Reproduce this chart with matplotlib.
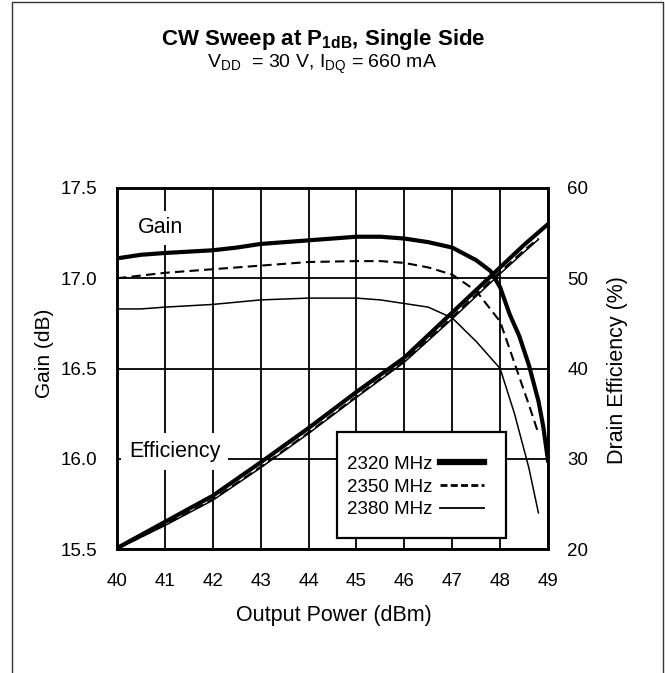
import matplotlib.pyplot as plt
from matplotlib.lines import Line2D
from matplotlib.patches import Rectangle

plt.rcParams['font.family'] = ['Liberation Sans', 'DejaVu Sans']
plt.rcParams['mathtext.fontset'] = 'custom'
plt.rcParams['mathtext.rm'] = 'Liberation Sans'
plt.rcParams['mathtext.bf'] = 'Liberation Sans:bold'

# gain curves (dB) vs output power (dBm)
pout_g2320 = [40, 40.5, 41, 42, 42.5, 43, 44, 45, 45.5, 46, 46.5, 47, 47.5, 47.8, 48, 48.2, 48.4, 48.6, 48.8, 48.9, 49]
gain_2320 = [17.11, 17.13, 17.14, 17.155, 17.17, 17.19, 17.21, 17.23, 17.23, 17.22, 17.20, 17.17, 17.10, 17.04,
             16.95, 16.80, 16.68, 16.52, 16.32, 16.18, 15.99]
pout_g2350 = [40, 41, 42, 43, 44, 45, 45.5, 46, 46.5, 47, 47.5, 48, 48.3, 48.6, 48.8]
gain_2350 = [17.00, 17.03, 17.05, 17.07, 17.09, 17.095, 17.095, 17.085, 17.06, 17.02, 16.93, 16.76, 16.53, 16.30, 16.14]
pout_g2380 = [40, 40.5, 41, 42, 43, 44, 45, 45.5, 46, 46.5, 47, 47.5, 48, 48.3, 48.6, 48.8]
gain_2380 = [16.83, 16.83, 16.84, 16.855, 16.88, 16.89, 16.89, 16.88, 16.86, 16.84, 16.78, 16.65, 16.50, 16.25,
             15.95, 15.70]

# drain efficiency (%)
pout_e2320 = [40, 41, 42, 43, 44, 45, 46, 47, 48, 48.5, 49]
eff_2320 = [20.1, 23.0, 25.9, 29.6, 33.4, 37.4, 41.2, 46.2, 51.2, 53.7, 56.0]
pout_e2350 = [40, 41, 42, 43, 44, 45, 46, 47, 48, 48.5, 48.8]
eff_2350 = [20.0, 22.7, 25.5, 29.1, 32.9, 36.9, 40.8, 45.7, 50.7, 53.1, 54.4]
pout_e2380 = [40, 41, 42, 43, 44, 45, 46, 47, 48, 48.5, 48.8]
eff_2380 = [20.0, 22.6, 25.4, 29.0, 32.8, 36.8, 40.7, 45.5, 50.5, 52.9, 54.3]

labels = ['2320 MHz', '2350 MHz', '2380 MHz']
xticks = list(range(40, 50))
gain_ticks = [15.5, 16.0, 16.5, 17.0, 17.5]
eff_ticks = [20, 30, 40, 50, 60]

W, H = 665, 673
fig = plt.figure(figsize=(W / 100, H / 100), dpi=100)

# frame around the figure (open at the bottom)
fx = [12 / W, 12 / W, 663 / W, 663 / W]
fy = [0, 1 - 2 / H, 1 - 2 / H, 0]
fig.add_artist(Line2D(fx, fy, color='#333333', lw=1.0))

ax = fig.add_axes([117 / W, 1 - 549 / H, 431 / W, 361 / H])
ax2 = ax.twinx()

styles = [dict(color='black', lw=3.0, ls='-'),
          dict(color='black', lw=1.5, ls=(0, (4.5, 2.5))),
          dict(color='black', lw=1.1, ls='-')]

ax.plot(pout_g2320, gain_2320, **styles[0])
ax.plot(pout_g2350, gain_2350, **styles[1])
ax.plot(pout_g2380, gain_2380, **styles[2])
ax2.plot(pout_e2320, eff_2320, **styles[0])
ax2.plot(pout_e2380, eff_2380, **styles[2])
ax2.plot(pout_e2350, eff_2350, **styles[1])

ax.set_xlim(40, 49)
ax.set_ylim(15.5, 17.5)
ax2.set_ylim(20, 60)
ax.set_xticks(xticks)
ax.set_yticks(gain_ticks)
ax.set_yticklabels([f'{v:.1f}' for v in gain_ticks])
ax2.set_yticks(eff_ticks)
ax.grid(True, color='black', lw=1.3)
ax.set_axisbelow(True)
for a in (ax, ax2):
    for s in a.spines.values():
        s.set_linewidth(1.8)
ax.tick_params(axis='x', length=0, pad=17, labelsize=13.5)
ax.tick_params(axis='y', length=0, pad=14, labelsize=13.5)
ax2.tick_params(axis='y', length=0, pad=14, labelsize=13.5)

ax.text(40.44, 17.28, 'Gain', fontsize=15.5, va='center', ha='left', zorder=5,
        bbox=dict(boxstyle='square,pad=0.3', fc='white', ec='none'))
ax.text(40.25, 16.04, 'Efficiency', fontsize=15.5, va='center', ha='left', zorder=5,
        bbox=dict(boxstyle='square,pad=0.35', fc='white', ec='none'))

# legend box
ax2.add_patch(Rectangle((0.510, 0.030), 0.393, 0.294, transform=ax2.transAxes,
                        fc='white', ec='black', lw=1.6, zorder=10))
handles = [Line2D([], [], color='black', lw=4.5),
           Line2D([], [], color='black', lw=2.0, ls=(0, (2.5, 1.2))),
           Line2D([], [], color='black', lw=1.3)]
leg = ax2.legend(handles, labels, loc='upper left', bbox_to_anchor=(0.533, 0.258),
                 frameon=False, markerfirst=False, fontsize=13.5, handlelength=2.35,
                 handletextpad=0.4, labelspacing=0.29, borderpad=0.0, borderaxespad=0.0)
leg.set_zorder(11)

fig.text(323 / W, 1 - 45 / H, r'CW Sweep at P$_{\mathbf{1dB}}$, Single Side', fontsize=16,
         fontweight='bold', ha='center', va='baseline')
fig.text(322 / W, 1 - 68 / H, r'V$_{\mathrm{DD}}$  = 30 V, I$_{\mathrm{DQ}}$ = 660 mA', fontsize=14,
         ha='center', va='baseline')
fig.text(334 / W, 1 - 615 / H, 'Output Power (dBm)', fontsize=15.5, ha='center', va='center')
fig.text(44.5 / W, 1 - 353 / H, 'Gain (dB)', fontsize=15, ha='center', va='center', rotation=90)
fig.text(617 / W, 1 - 370 / H, 'Drain Efficiency (%)', fontsize=15.5, ha='center', va='center', rotation=90)

fig.savefig('out.png', dpi=100)
